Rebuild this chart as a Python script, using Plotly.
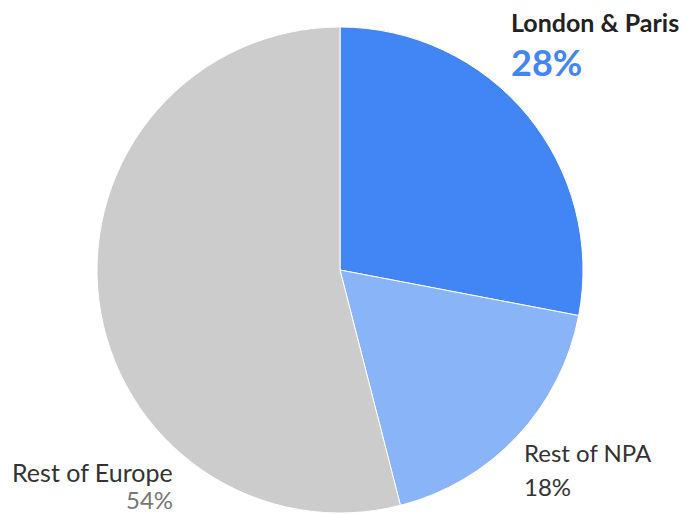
import plotly.graph_objects as go

labels = ["London & Paris", "Rest of NPA", "Rest of Europe"]
values = [28, 18, 54]
colors = ["#4285F4", "#8AB4F8", "#CCCCCC"]

W, H = 692, 514
fig = go.Figure(go.Pie(
    labels=labels, values=values, sort=False, direction="clockwise", rotation=0,
    marker=dict(colors=colors, line=dict(color="#FFFFFF", width=1)),
    textinfo="none", hoverinfo="label+percent", showlegend=False,
    domain=dict(x=[97 / W, 583 / W], y=[1 - 513 / H, 1 - 27 / H]),
))

font = "Lato"
ann = []
def add(text, x, y, xanchor, size, color, bold=False):
    t = f"<b>{text}</b>" if bold else text
    ann.append(dict(text=t, x=x / W, y=1 - y / H, xref="paper", yref="paper",
                    xanchor=xanchor, yanchor="middle", showarrow=False,
                    font=dict(family=font, size=size, color=color)))

add(labels[0], 509, 22, "left", 25, "#222222", True)
add(f"{values[0]}%", 509, 62, "left", 36, "#4285F4", True)
add(labels[1], 522, 452, "left", 24, "#333333")
add(f"{values[1]}%", 522, 486, "left", 24, "#333333")
add(labels[2], 175, 472, "right", 25, "#333333")
add(f"{values[2]}%", 175, 499, "right", 24, "#777777")

fig.update_layout(width=W, height=H, margin=dict(l=0, r=0, t=0, b=0),
                  paper_bgcolor="white", plot_bgcolor="white", annotations=ann)
fig.write_html("out.html", config={"displayModeBar": False},
               post_script="document.body.style.margin='0';")
